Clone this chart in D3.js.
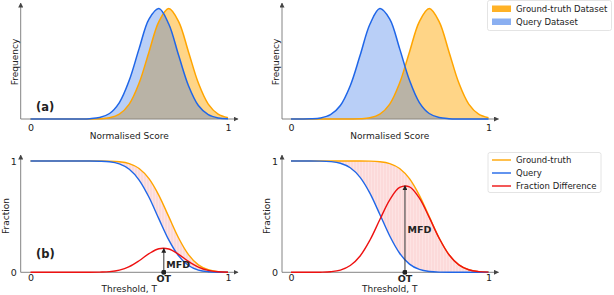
<!DOCTYPE html>
<html>
<head>
<meta charset="utf-8">
<script src="https://cdn.jsdelivr.net/npm/d3@7"></script>
<style>
  body { margin: 0; background: #fff; }
  svg { display: block; font-family: "DejaVu Sans", sans-serif; }
</style>
</head>
<body>
<svg id="chart" width="614" height="295"></svg>
<script>
// Sample grid (score / threshold), read every 0.05
const grid = [0, 0.05, 0.1, 0.15, 0.2, 0.25, 0.3, 0.35, 0.4, 0.45, 0.5,
              0.55, 0.6, 0.65, 0.7, 0.75, 0.8, 0.85, 0.9, 0.95, 1];

// (a) left: frequency of scores
const freqQueryA = [0, 0, 0, 0, 0.0001, 0.0004, 0.0026, 0.0129, 0.0498, 0.149, 0.350,
                    0.637, 0.904, 0.999, 0.860, 0.576, 0.301, 0.122, 0.0387, 0.0096, 0.0018];
const freqTruthA = [0, 0, 0, 0, 0, 0, 0.0003, 0.0022, 0.0111, 0.0439, 0.135,
                    0.325, 0.607, 0.882, 1, 0.882, 0.607, 0.325, 0.135, 0.0439, 0.0111];
// (a) right
const freqQueryB = [0, 0.0003, 0.0018, 0.0096, 0.0387, 0.122, 0.301, 0.576, 0.860, 0.999, 0.904,
                    0.637, 0.350, 0.149, 0.0498, 0.0129, 0.0026, 0.0004, 0.0001, 0, 0];
const freqTruthB = freqTruthA;

// (b) left: fraction above threshold
const fracTruthA = [1, 1, 1, 1, 1, 1, 1, 0.9998, 0.9987, 0.9938, 0.9772,
                    0.9332, 0.8413, 0.6915, 0.5, 0.3085, 0.1587, 0.0668, 0.0228, 0.0062, 0.0013];
const fracQueryA = [1, 1, 1, 1, 1, 1, 0.9997, 0.998, 0.993, 0.974, 0.926,
                    0.829, 0.674, 0.480, 0.291, 0.147, 0.061, 0.020, 0.0054, 0.0011, 0.0002];
const fracDiffA  = [0, 0, 0, 0, 0, 0, 0.0003, 0.0018, 0.0057, 0.0198, 0.051,
                    0.104, 0.167, 0.2115, 0.209, 0.1615, 0.098, 0.047, 0.0174, 0.0051, 0.0011];
// (b) right
const fracTruthB = fracTruthA;
const fracQueryB = [1, 1, 0.9998, 0.9989, 0.9946, 0.980, 0.939, 0.853, 0.709, 0.520, 0.326,
                    0.171, 0.0735, 0.0256, 0.0071, 0.0016, 0.0003, 0, 0, 0, 0];
const fracDiffB  = [0, 0, 0.0002, 0.0011, 0.0054, 0.020, 0.061, 0.147, 0.290, 0.474, 0.651,
                    0.762, 0.768, 0.666, 0.493, 0.307, 0.158, 0.0668, 0.0228, 0.0062, 0.0013];

// optimal threshold and max fraction difference
const otA = 0.675, mfdA = 0.215;
const otB = 0.577, mfdB = 0.778;

const tickVals = [0, 1];

const orange = "#ffa500", blue = "#1f66e8", red = "#ee1111", axisGrey = "#777";

const svg = d3.select("#chart");
const defs = svg.append("defs");

// arrow heads for the axes
defs.append("marker")
    .attr("id", "axArrow").attr("viewBox", "0 0 10 10")
    .attr("refX", 9).attr("refY", 5)
    .attr("markerWidth", 5).attr("markerHeight", 5)
    .attr("markerUnits", "userSpaceOnUse")
    .attr("orient", "auto")
  .append("path").attr("d", "M0,0L10,5L0,10Z").attr("fill", "#444");

defs.append("marker")
    .attr("id", "mfdArrow").attr("viewBox", "0 0 10 10")
    .attr("refX", 9).attr("refY", 5)
    .attr("markerWidth", 5).attr("markerHeight", 5)
    .attr("markerUnits", "userSpaceOnUse")
    .attr("orient", "auto")
  .append("path").attr("d", "M0,0L10,5L0,10Z").attr("fill", "#222");

defs.append("marker")
    .attr("id", "mfdDot").attr("viewBox", "0 0 10 10")
    .attr("refX", 5).attr("refY", 5)
    .attr("markerWidth", 5).attr("markerHeight", 5)
    .attr("markerUnits", "userSpaceOnUse")
  .append("circle").attr("cx", 5).attr("cy", 5).attr("r", 5).attr("fill", "#222");

// vertical hatching for the fraction difference area
const hatch = defs.append("pattern")
    .attr("id", "hatch").attr("patternUnits", "userSpaceOnUse")
    .attr("width", 3).attr("height", 10);
hatch.append("rect").attr("width", 3).attr("height", 10).attr("fill", "#fde3e3");
hatch.append("line").attr("x1", 1).attr("x2", 1).attr("y1", 0).attr("y2", 10)
    .attr("stroke", "#f9c4c4").attr("stroke-width", 0.6);

const panels = [
    { x0: 30.5, x1: 228, axisX: 20.7 },
    { x0: 291, x1: 488.5, axisX: 282 }
];

const yTop = d3.scaleLinear().domain([0, 1]).range([119, 8.5]);
const yBot = d3.scaleLinear().domain([0, 1]).range([272.3, 161]);

function drawAxes(p, x, y, topY, ticksPad) {
    const base = y(0);
    svg.append("line")
        .attr("x1", p.axisX).attr("x2", p.x1 + 10)
        .attr("y1", base).attr("y2", base)
        .attr("stroke", axisGrey).attr("stroke-width", 0.9)
        .attr("marker-end", "url(#axArrow)");
    svg.append("line")
        .attr("x1", p.axisX).attr("x2", p.axisX)
        .attr("y1", base).attr("y2", topY)
        .attr("stroke", axisGrey).attr("stroke-width", 0.9)
        .attr("marker-end", "url(#axArrow)");

    const ax = svg.append("g")
        .attr("transform", `translate(0,${base})`)
        .call(d3.axisBottom(x).tickValues(tickVals).tickSize(0).tickPadding(ticksPad).tickFormat(d3.format("d")));
    ax.select(".domain").remove();
    ax.selectAll("text").attr("font-size", 9.5).attr("fill", "#222")
        .style("font-family", "DejaVu Sans, sans-serif");
}

function labels(cx, cy, text, rotate) {
    const t = svg.append("text")
        .attr("font-size", 9).attr("fill", "#222")
        .attr("text-anchor", "middle")
        .text(text);
    if (rotate) t.attr("transform", `translate(${cx},${cy}) rotate(-90)`);
    else t.attr("x", cx).attr("y", cy);
}

// ---------- top row: frequency ----------
const freqSets = [[freqTruthA, freqQueryA], [freqTruthB, freqQueryB]];
panels.forEach(function (p, i) {
    const x = d3.scaleLinear().domain([0, 1]).range([p.x0, p.x1]);
    drawAxes(p, x, yTop, 3, 5);

    const area = d3.area().curve(d3.curveCatmullRom)
        .x((d, j) => x(grid[j])).y0(yTop(0)).y1(d => yTop(d));
    const line = d3.line().curve(d3.curveCatmullRom)
        .x((d, j) => x(grid[j])).y(d => yTop(d));

    const truth = freqSets[i][0], query = freqSets[i][1];
    svg.append("path").attr("d", area(truth)).attr("fill", orange).attr("fill-opacity", 0.47);
    svg.append("path").attr("d", area(query)).attr("fill", "#2a6ee6").attr("fill-opacity", 0.33);
    svg.append("path").attr("d", line(truth)).attr("fill", "none").attr("stroke", orange).attr("stroke-width", 1.5);
    svg.append("path").attr("d", line(query)).attr("fill", "none").attr("stroke", blue).attr("stroke-width", 1.5);

    labels((p.x0 + p.x1) / 2, 138.5, "Normalised Score", false);
    labels(p.axisX - 3, 62, "Frequency", true);
});

svg.append("text").attr("x", 36).attr("y", 111).attr("font-size", 11.5)
    .attr("font-weight", "bold").attr("fill", "#222").text("(a)");

// ---------- bottom row: fraction ----------
const fracSets = [[fracTruthA, fracQueryA, fracDiffA, otA, mfdA],
                  [fracTruthB, fracQueryB, fracDiffB, otB, mfdB]];
panels.forEach(function (p, i) {
    const x = d3.scaleLinear().domain([0, 1]).range([p.x0, p.x1]);
    drawAxes(p, x, yBot, 155, 1.5);

    const ay = svg.append("g")
        .attr("transform", `translate(${p.axisX},0)`)
        .call(d3.axisLeft(yBot).tickValues(tickVals).tickSize(0).tickPadding(4).tickFormat(d3.format("d")));
    ay.select(".domain").remove();
    ay.selectAll("text").attr("font-size", 9.5).attr("fill", "#222")
        .style("font-family", "DejaVu Sans, sans-serif");

    const [truth, query, diff, ot, mfd] = fracSets[i];

    const between = d3.area().curve(d3.curveMonotoneX)
        .x((d, j) => x(grid[j])).y0((d, j) => yBot(truth[j])).y1((d, j) => yBot(query[j]));
    const smooth = d3.line().curve(d3.curveMonotoneX)
        .x((d, j) => x(grid[j])).y(d => yBot(d));
    const bell = d3.line().curve(d3.curveCatmullRom)
        .x((d, j) => x(grid[j])).y(d => yBot(d));

    svg.append("path").attr("d", between(grid)).attr("fill", "url(#hatch)");
    svg.append("path").attr("d", smooth(truth)).attr("fill", "none").attr("stroke", orange).attr("stroke-width", 1.4);
    svg.append("path").attr("d", smooth(query)).attr("fill", "none").attr("stroke", blue).attr("stroke-width", 1.4);
    svg.append("path").attr("d", bell(diff)).attr("fill", "none").attr("stroke", red).attr("stroke-width", 1.4);

    // MFD arrow at OT
    svg.append("line")
        .attr("x1", x(ot)).attr("x2", x(ot))
        .attr("y1", yBot(0)).attr("y2", yBot(mfd))
        .attr("stroke", "#333").attr("stroke-width", 1)
        .attr("marker-start", "url(#mfdDot)")
        .attr("marker-end", "url(#mfdArrow)");

    svg.append("text")
        .attr("x", x(ot) + 2.5).attr("y", i === 0 ? yBot(0) - 4 : yBot(mfd / 2) + 3.5)
        .attr("font-size", 9.5).attr("font-weight", "bold").attr("fill", "#222")
        .text("MFD");
    svg.append("text")
        .attr("x", x(ot)).attr("y", 281.5)
        .attr("text-anchor", "middle")
        .attr("font-size", 9.5).attr("font-weight", "bold").attr("fill", "#222")
        .text("OT");

    labels((p.x0 + p.x1) / 2, 292, "Threshold, T", false);
    labels(p.axisX - 12, 216, "Fraction", true);
});

svg.append("text").attr("x", 36).attr("y", 258).attr("font-size", 11.5)
    .attr("font-weight", "bold").attr("fill", "#222").text("(b)");

// ---------- legends ----------
const topLegend = [
    { label: "Ground-truth Dataset", color: orange, opacity: 0.85 },
    { label: "Query Dataset", color: "#2a6ee6", opacity: 0.55 }
];
const botLegend = [
    { label: "Ground-truth", color: orange },
    { label: "Query", color: blue },
    { label: "Fraction Difference", color: red }
];

svg.append("rect").attr("x", 487.5).attr("y", 0.5).attr("width", 124).attr("height", 30)
    .attr("rx", 2).attr("fill", "#fff").attr("stroke", "#ddd").attr("stroke-width", 0.8);
const tl = svg.append("g").selectAll("g").data(topLegend).enter().append("g")
    .attr("transform", (d, i) => `translate(0,${9 + i * 13})`);
tl.append("rect").attr("x", 492).attr("y", -3.5).attr("width", 19).attr("height", 6.5)
    .attr("fill", d => d.color).attr("fill-opacity", d => d.opacity);
tl.append("text").attr("x", 516).attr("y", 3).attr("font-size", 8.5).attr("fill", "#222")
    .text(d => d.label);

svg.append("rect").attr("x", 488).attr("y", 152.5).attr("width", 113).attr("height", 40)
    .attr("rx", 2).attr("fill", "#fff").attr("stroke", "#ddd").attr("stroke-width", 0.8);
const bl = svg.append("g").selectAll("g").data(botLegend).enter().append("g")
    .attr("transform", (d, i) => `translate(0,${160 + i * 13})`);
bl.append("line").attr("x1", 492).attr("x2", 511).attr("y1", 0).attr("y2", 0)
    .attr("stroke", d => d.color).attr("stroke-width", 1.4);
bl.append("text").attr("x", 516).attr("y", 3).attr("font-size", 8.5).attr("fill", "#222")
    .text(d => d.label);
</script>
</body>
</html>
